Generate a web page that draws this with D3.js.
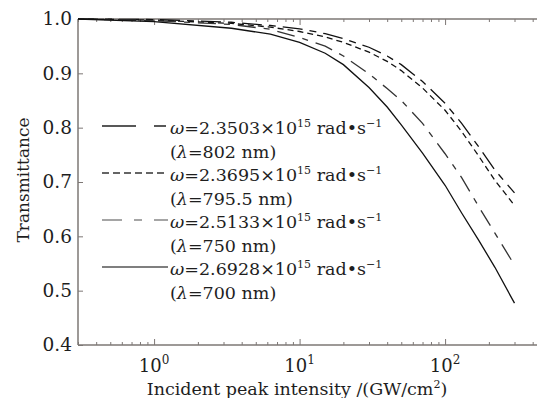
<!DOCTYPE html>
<html>
<head>
<meta charset="utf-8">
<script src="https://cdn.jsdelivr.net/npm/d3@7"></script>
<style>
  body { margin: 0; background: #fff; }
  svg { display: block; }
  text { font-family: "DejaVu Serif", serif; fill: #1e1e1e; }
</style>
</head>
<body>
<div id="chart"></div>
<script>
const width = 537;
const height = 398;

const margin = { top: 19, left: 78, bottom: 345 };

// incident peak intensity (GW/cm^2)
const intensity = [0.3, 1, 3.4, 6.3, 10, 15, 20, 30, 40, 50, 70, 100, 130, 170, 220, 300];

// transmittance for each wavelength
const t802 = [1.000, 0.999, 0.994, 0.988, 0.982, 0.973, 0.964, 0.948, 0.932, 0.916, 0.885, 0.845, 0.808, 0.765, 0.722, 0.680];
const t795 = [1.000, 0.998, 0.992, 0.985, 0.977, 0.967, 0.957, 0.939, 0.922, 0.905, 0.873, 0.832, 0.793, 0.748, 0.703, 0.657];
const t750 = [1.000, 0.997, 0.990, 0.981, 0.966, 0.950, 0.932, 0.899, 0.872, 0.850, 0.808, 0.752, 0.708, 0.655, 0.606, 0.547];
const t700 = [1.000, 0.995, 0.983, 0.972, 0.957, 0.937, 0.916, 0.874, 0.838, 0.805, 0.753, 0.694, 0.643, 0.593, 0.543, 0.477];

const omegaLabels = ["2.3503", "2.3695", "2.5133", "2.6928"];
const lambdaLabels = ["802", "795.5", "750", "700"];

const yTicks = [0.4, 0.5, 0.6, 0.7, 0.8, 0.9, 1.0];
const xMajor = [1, 10, 100];
const xMajorExp = ["0", "1", "2"];

const series = [
    { values: t802, dash: "20,7,7,7", legendDash: "34,18,12,18", color: "#111", legendColor: "#222" },
    { values: t795, dash: "6,4", legendDash: "7,4", color: "#111", legendColor: "#333" },
    { values: t750, dash: "18,8,6,8", legendDash: "20,12,8,12", color: "#333", legendColor: "#888" },
    { values: t700, dash: null, legendDash: null, color: "#111", legendColor: "#555" }
];

const svg = d3.select("#chart").append("svg").attr("width", width).attr("height", height);

const xScale = d3.scaleLog()
    .domain([0.3, 500])
    .range([margin.left, margin.left + Math.log10(500 / 0.3) * 145.5]);

const yScale = d3.scaleLinear()
    .domain([0.4, 1.0])
    .range([margin.bottom, margin.top]);

// minor ticks on the log axis
const xMinor = [];
[0.1, 1, 10, 100].forEach(dec => {
    for (let k = 2; k <= 9; k++) {
        const v = dec * k;
        if (v >= 0.3 && v <= 500) xMinor.push(v);
    }
});

const axisColor = "#7d7775";

// bottom axis
svg.append("g")
    .attr("transform", `translate(0,${margin.bottom})`)
    .call(d3.axisBottom(xScale).tickValues(xMinor).tickSize(-3).tickFormat(""))
    .call(g => g.select(".domain").remove());
svg.append("g")
    .attr("transform", `translate(0,${margin.bottom})`)
    .call(d3.axisBottom(xScale).tickValues(xMajor).tickSize(-6).tickFormat(""))
    .call(g => g.select(".domain").remove());

// top axis
svg.append("g")
    .attr("transform", `translate(0,${margin.top})`)
    .call(d3.axisTop(xScale).tickValues(xMinor).tickSize(-3).tickFormat(""))
    .call(g => g.select(".domain").remove());
svg.append("g")
    .attr("transform", `translate(0,${margin.top})`)
    .call(d3.axisTop(xScale).tickValues(xMajor).tickSize(-6).tickFormat(""))
    .call(g => g.select(".domain").remove());

// left axis
svg.append("g")
    .attr("transform", `translate(${margin.left},0)`)
    .call(d3.axisLeft(yScale).tickValues(yTicks).tickSize(-5).tickPadding(6).tickFormat(d3.format(".1f")))
    .call(g => g.select(".domain").remove())
    .call(g => g.selectAll("text").style("font-size", "18.5px").attr("fill", "#1e1e1e"));

svg.selectAll(".tick line").attr("stroke", axisColor);

// frame lines
svg.append("line").attr("x1", margin.left).attr("x2", width).attr("y1", margin.top).attr("y2", margin.top)
    .attr("stroke", axisColor).attr("stroke-width", 1.5);
svg.append("line").attr("x1", margin.left).attr("x2", width).attr("y1", margin.bottom).attr("y2", margin.bottom)
    .attr("stroke", axisColor).attr("stroke-width", 1.5);
svg.append("line").attr("x1", margin.left).attr("x2", margin.left).attr("y1", margin.top).attr("y2", margin.bottom)
    .attr("stroke", axisColor).attr("stroke-width", 1.5);

// x major labels with exponents
xMajor.forEach((v, i) => {
    const t = svg.append("text")
        .attr("x", xScale(v))
        .attr("y", 372)
        .attr("text-anchor", "middle")
        .style("font-size", "18px");
    t.append("tspan").text("10");
    t.append("tspan").attr("dy", -8).style("font-size", "12px").text(xMajorExp[i]);
});

// axis titles
const xt = svg.append("text")
    .attr("x", 297).attr("y", 395)
    .attr("text-anchor", "middle")
    .style("font-size", "17.5px");
xt.append("tspan").text("Incident peak intensity /(GW/cm");
xt.append("tspan").attr("dy", -7).style("font-size", "11px").text("2");
xt.append("tspan").attr("dy", 7).text(")");

svg.append("text")
    .attr("transform", "rotate(-90)")
    .attr("x", -180).attr("y", 29)
    .attr("text-anchor", "middle")
    .style("font-size", "17px")
    .text("Transmittance");

// curves
const line = d3.line()
    .x((d, i) => xScale(intensity[i]))
    .y(d => yScale(d));

series.forEach(s => {
    svg.append("path")
        .datum(s.values)
        .attr("fill", "none")
        .attr("stroke", s.color)
        .attr("stroke-width", 1.3)
        .attr("stroke-dasharray", s.dash)
        .attr("d", line);
});

// legend
const rowStep = 23.5;
series.forEach((s, i) => {
    const cy = 128 + rowStep * 2 * i;
    svg.append("line")
        .attr("x1", 102).attr("x2", 168)
        .attr("y1", cy - 2).attr("y2", cy - 2)
        .attr("stroke", s.legendColor)
        .attr("stroke-width", 1.3)
        .attr("stroke-dasharray", s.legendDash);

    const t1 = svg.append("text").attr("x", 170).attr("y", cy + 6).style("font-size", "17.5px");
    t1.append("tspan").style("font-style", "italic").text("ω");
    t1.append("tspan").text("=" + omegaLabels[i] + "×10");
    t1.append("tspan").attr("dy", -7).style("font-size", "11px").text("15");
    t1.append("tspan").attr("dy", 7).text(" rad•s");
    t1.append("tspan").attr("dy", -7).style("font-size", "11px").text("−1");

    const t2 = svg.append("text").attr("x", 170).attr("y", cy + rowStep + 6).style("font-size", "17.5px");
    t2.append("tspan").text("(");
    t2.append("tspan").style("font-style", "italic").text("λ");
    t2.append("tspan").text("=" + lambdaLabels[i] + " nm)");
});
</script>
</body>
</html>
